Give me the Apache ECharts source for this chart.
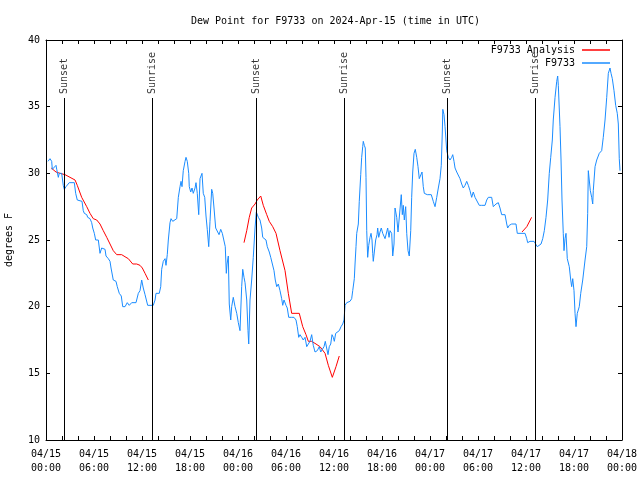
<!DOCTYPE html>
<html><head><meta charset="utf-8">
<script src="https://cdn.jsdelivr.net/npm/echarts@6/dist/echarts.min.js"></script>
<style>html,body{margin:0;padding:0;background:#fff}#c{width:640px;height:480px}</style>
</head><body><div id="c"></div>
<script>
// Hours since 2024-04-15 00:00 UTC
const obsHours = [0.25,0.5,0.71,0.79,1.0,1.25,1.34,1.54,1.66,1.96,2.09,2.16,2.29,2.5,2.91,3.54,3.71,3.91,4.5,4.66,4.79,5.09,5.21,5.5,5.71,5.84,6.04,6.21,6.41,6.54,6.75,6.96,7.16,7.38,7.5,7.79,8.0,8.13,8.41,8.75,8.91,9.16,9.41,9.59,9.88,10.16,10.41,10.71,11.25,11.54,11.75,11.96,12.16,12.38,12.59,12.71,13.13,13.41,13.63,13.75,14.16,14.34,14.46,14.66,14.88,15.0,15.16,15.29,15.5,15.63,15.84,16.04,16.34,16.54,16.75,16.88,17.0,17.16,17.38,17.5,17.66,17.84,17.91,18.09,18.25,18.41,18.63,18.75,18.91,19.09,19.25,19.5,19.66,19.84,20.0,20.16,20.34,20.5,20.71,20.84,21.0,21.21,21.41,21.63,21.84,22.04,22.25,22.41,22.54,22.63,22.79,22.91,23.09,23.21,23.41,23.63,23.84,24.04,24.25,24.46,24.59,24.75,24.88,25.09,25.25,25.34,25.5,25.71,25.91,26.13,26.29,26.54,26.75,26.96,27.09,27.25,27.5,27.66,27.91,28.09,28.34,28.5,28.66,28.84,29.04,29.25,29.46,29.59,29.75,30.0,30.16,30.34,30.71,31.0,31.25,31.41,31.59,31.75,31.96,32.16,32.38,32.59,32.79,33.0,33.21,33.41,33.63,33.91,34.16,34.34,34.59,34.75,34.91,35.09,35.25,35.41,35.59,35.75,35.91,36.04,36.21,36.41,36.66,36.88,37.09,37.25,37.38,37.59,38.0,38.21,38.34,38.54,38.63,38.75,38.84,39.04,39.16,39.34,39.46,39.59,39.66,39.79,39.91,40.0,40.09,40.21,40.34,40.5,40.63,40.75,40.84,40.91,41.04,41.21,41.38,41.46,41.59,41.75,41.91,42.09,42.25,42.38,42.59,42.71,42.88,43.0,43.21,43.34,43.5,43.63,43.84,44.0,44.25,44.41,44.54,44.66,44.79,44.96,45.09,45.25,45.41,45.59,45.71,45.84,46.0,46.16,46.34,46.5,46.66,46.84,47.0,47.16,47.29,47.66,48.16,48.41,48.63,48.84,49.04,49.25,49.41,49.54,49.6,49.75,49.88,50.09,50.29,50.5,50.71,50.84,51.0,51.13,51.34,51.54,51.75,51.96,52.16,52.38,52.59,52.79,53.0,53.21,53.41,53.63,53.84,54.16,54.46,54.88,55.09,55.29,55.71,55.91,56.25,56.54,56.75,56.96,57.38,57.59,57.71,57.91,58.21,58.75,58.91,59.25,59.88,60.09,60.21,60.5,60.75,61.0,61.21,61.41,61.66,61.88,62.09,62.29,62.5,62.71,62.91,63.09,63.29,63.41,63.63,63.84,63.96,64.04,64.25,64.38,64.5,64.66,64.75,64.88,65.0,65.16,65.29,65.41,65.59,65.71,65.84,66.0,66.13,66.25,66.41,66.66,66.84,67.09,67.38,67.59,67.71,67.79,67.91,68.04,68.21,68.34,68.41,68.63,68.84,69.16,69.46,69.66,69.88,70.09,70.29,70.5,70.63,70.79,71.0,71.21,71.41,71.54,71.66,71.75];
const obsDew = [30.9,31.1,30.9,30.3,30.4,30.6,30.3,29.7,30.0,30.0,29.9,29.1,28.8,29.0,29.3,29.3,28.5,28.0,27.9,27.2,27.0,26.9,26.7,26.6,26.3,25.9,25.5,25.0,24.9,25.0,24.0,24.4,24.5,24.3,23.8,23.6,23.4,22.9,22.0,21.9,21.5,21.0,20.8,20.0,20.0,20.3,20.1,20.3,20.3,21.0,21.2,22.0,21.4,20.9,21.0,20.1,20.1,20.1,20.5,21.0,21.0,21.5,22.8,23.4,23.6,23.1,23.9,25.0,26.3,26.6,26.4,26.3,26.6,28.2,29.0,29.4,29.0,30.2,30.9,31.2,30.9,30.0,29.0,28.6,28.9,28.5,28.9,29.3,28.5,26.9,29.6,30.0,28.5,28.2,26.8,25.8,24.5,26.4,28.8,28.5,27.4,25.9,25.8,25.4,25.8,25.5,25.4,24.5,22.5,23.2,23.8,20.2,19.0,20.0,20.7,20.0,19.5,18.8,18.2,21.5,22.8,22.2,21.8,20.5,18.2,17.2,20.5,22.0,23.7,25.9,27.1,26.7,26.5,25.9,25.2,25.2,25.0,24.5,24.1,23.7,23.7,22.7,22.0,21.5,21.7,21.2,20.6,20.1,20.5,20.1,19.9,19.2,19.2,19.2,19.0,18.5,17.7,17.9,17.7,17.5,17.7,17.0,17.2,17.4,17.9,17.1,16.6,16.7,17.0,16.6,16.7,17.0,17.4,17.5,16.4,17.0,17.2,17.9,17.7,17.4,18.0,18.1,18.2,18.5,18.7,19.0,20.1,20.3,20.4,20.6,21.2,22.1,23.2,24.5,25.5,26.2,27.9,29.9,31.2,32.0,32.4,32.1,31.9,29.7,25.7,23.7,24.6,25.2,25.5,25.0,24.0,23.4,24.1,25.0,25.4,25.9,25.2,25.6,25.9,25.5,25.4,25.1,25.6,25.9,25.2,25.7,25.5,23.8,24.7,27.4,26.7,25.6,25.5,28.4,26.9,27.6,26.5,27.5,25.5,24.2,23.8,25.7,28.2,30.1,31.5,31.8,31.2,30.5,29.6,29.5,30.1,29.0,28.5,28.4,28.4,27.9,27.5,28.2,28.9,29.6,30.6,33.1,34.8,34.4,33.5,31.7,31.2,31.0,31.2,31.4,30.9,30.4,30.1,30.0,29.6,29.2,28.9,29.1,29.4,29.1,28.7,28.2,28.6,28.2,28.1,27.6,27.6,27.6,28.0,28.2,28.2,27.5,27.7,27.8,27.4,26.9,26.9,26.2,25.9,26.1,26.2,26.2,25.5,25.5,25.5,25.1,24.8,24.9,25.0,24.9,24.8,24.5,24.5,24.7,25.1,25.7,26.7,28.0,30.0,31.2,32.5,34.0,35.7,36.9,37.3,36.6,33.5,31.0,28.0,25.5,24.2,25.1,25.5,23.6,23.7,23.0,22.0,21.5,22.1,21.2,19.5,18.5,19.5,20.0,21.0,22.0,23.5,24.5,27.0,30.2,30.2,28.7,28.2,27.7,28.7,30.5,31.0,31.5,31.7,32.7,34.0,35.7,37.5,37.9,37.5,37.1,36.2,35.1,34.5,33.7,31.1,30.2];
// Analysis (null = gap)
const anaHours = [0.65,1.25,1.75,2.38,3.0,3.63,3.91,4.46,5.09,5.5,5.91,6.34,6.75,7.16,7.59,8.0,8.41,8.84,9.46,10.0,10.29,10.84,11.34,11.75,12.04,12.38,12.79,18.0,24.75,25.09,25.41,25.71,26.13,26.41,26.84,27.16,27.59,27.91,28.34,28.75,29.25,29.88,30.29,30.71,31.13,31.66,32.09,32.5,32.79,33.21,33.75,34.25,34.88,35.29,35.79,36.25,36.66,48.0,59.5,60.1,60.7];
const anaDew = [30.4,30.1,30.0,29.9,29.7,29.5,29.1,28.2,27.5,27.0,26.6,26.5,26.2,25.7,25.2,24.7,24.2,23.9,23.9,23.7,23.6,23.2,23.2,23.1,22.9,22.5,22.0,null,24.8,25.7,26.7,27.4,27.7,28.0,28.3,27.6,26.9,26.4,26.0,25.5,24.2,22.7,21.0,19.5,19.5,19.5,18.5,17.9,17.4,17.4,17.2,17.0,16.5,15.6,14.7,15.5,16.3,null,25.6,26.0,26.7];
const sunHours = [2.33,13.3,26.3,37.3,50.2,61.2];
const sunLabels = ['Sunset','Sunrise','Sunset','Sunrise','Sunset','Sunrise'];
const yTicks = {min:10, max:40, step:5};
const xRange = {min:0, max:72, step:6};
const dayStart = 15;

const FONT = '"DejaVu Sans Mono","Liberation Mono",monospace';
const BLUE = '#1a8cff', RED = '#ff0000';
const pad = n => (n < 10 ? '0' : '') + n;
const xFmt = v => '04/' + pad(dayStart + Math.floor(v / 24)) + '\n' + pad(v % 24) + ':00';

const obsData = obsHours.map((h, i) => [h, obsDew[i]]);
const anaData = anaHours.map((h, i) => [h, anaDew[i] == null ? '-' : anaDew[i]]);

const lineTop = 35.65, labelAt = 35.95;

const axisCommon = {
  axisLine: {show: true, onZero: false, lineStyle: {color: '#000', width: 1}},
  axisTick: {show: true, inside: true, length: 4, lineStyle: {color: '#000', width: 1}},
  splitLine: {show: false}
};

const chart = echarts.init(document.getElementById('c'), null, {renderer: 'canvas'});
chart.setOption({
  animation: false,
  backgroundColor: '#fff',
  textStyle: {fontFamily: FONT},
  title: {text: 'Dew Point for F9733 on 2024-Apr-15 (time in UTC)', left: 186, top: 11,
    textStyle: {fontFamily: FONT, fontSize: 10, fontWeight: 'normal', color: '#000'}},
  grid: {left: 46, right: 18, top: 40, bottom: 40, containLabel: false, outerBoundsMode: 'none'},
  legend: [
    {data: ['F9733 Analysis'], right: 30, top: 45, padding: 0, align: 'right', icon: 'rect',
     itemWidth: 28, itemHeight: 1.5, textStyle: {fontFamily: FONT, fontSize: 10, color: '#000', padding: [0, 2, 0, 0]}},
    {data: ['F9733'], right: 30, top: 58, padding: 0, align: 'right', icon: 'rect',
     itemWidth: 28, itemHeight: 1.5, textStyle: {fontFamily: FONT, fontSize: 10, color: '#000', padding: [0, 2, 0, 0]}}
  ],
  xAxis: [
    Object.assign({}, axisCommon, {type: 'value', min: xRange.min, max: xRange.max, interval: xRange.step, position: 'bottom',
      minorTick: {show: true, splitNumber: 3, length: 4, lineStyle: {color: '#000', width: 1}},
      axisLabel: {color: '#000', fontFamily: FONT, fontSize: 10, lineHeight: 14, margin: 7, formatter: xFmt}}),
    Object.assign({}, axisCommon, {type: 'value', min: xRange.min, max: xRange.max, interval: xRange.step, position: 'top',
      minorTick: {show: true, splitNumber: 3, length: 4, lineStyle: {color: '#000', width: 1}},
      axisLabel: {show: false}})
  ],
  yAxis: [
    Object.assign({}, axisCommon, {type: 'value', min: yTicks.min, max: yTicks.max, interval: yTicks.step, position: 'left',
      name: 'degrees F', nameLocation: 'middle', nameGap: 32, nameRotate: 90,
      nameTextStyle: {fontFamily: FONT, fontSize: 10, color: '#000'},
      axisLabel: {color: '#000', fontFamily: FONT, fontSize: 10, margin: 6}}),
    Object.assign({}, axisCommon, {type: 'value', min: yTicks.min, max: yTicks.max, interval: yTicks.step, position: 'right',
      axisLabel: {show: false}})
  ],
  series: [
    {name: 'F9733 Analysis', type: 'line', data: anaData, showSymbol: false, symbol: 'none',
     connectNulls: false, lineStyle: {color: RED, width: 1}, itemStyle: {color: RED}, emphasis: {disabled: true}, z: 3},
    {name: 'F9733', type: 'line', data: obsData, showSymbol: false, symbol: 'none',
     lineStyle: {color: BLUE, width: 1}, itemStyle: {color: BLUE}, emphasis: {disabled: true}, z: 4},
    {name: 'sun', type: 'scatter', symbolSize: 1, itemStyle: {color: 'rgba(0,0,0,0)'}, silent: true, z: 5,
     data: sunHours.map((h, i) => ({value: [h, labelAt], name: sunLabels[i]})),
     label: {show: true, position: 'inside', rotate: 90, align: 'left', verticalAlign: 'middle',
       formatter: p => p.name, fontFamily: FONT, fontSize: 10, color: '#000'},
     markLine: {silent: true, symbol: ['none', 'none'], animation: false, label: {show: false},
       lineStyle: {color: '#000', width: 1, type: 'solid'}, emphasis: {disabled: true},
       data: sunHours.map(h => [{coord: [h, yTicks.min]}, {coord: [h, lineTop]}])}}
  ]
});
</script></body></html>
